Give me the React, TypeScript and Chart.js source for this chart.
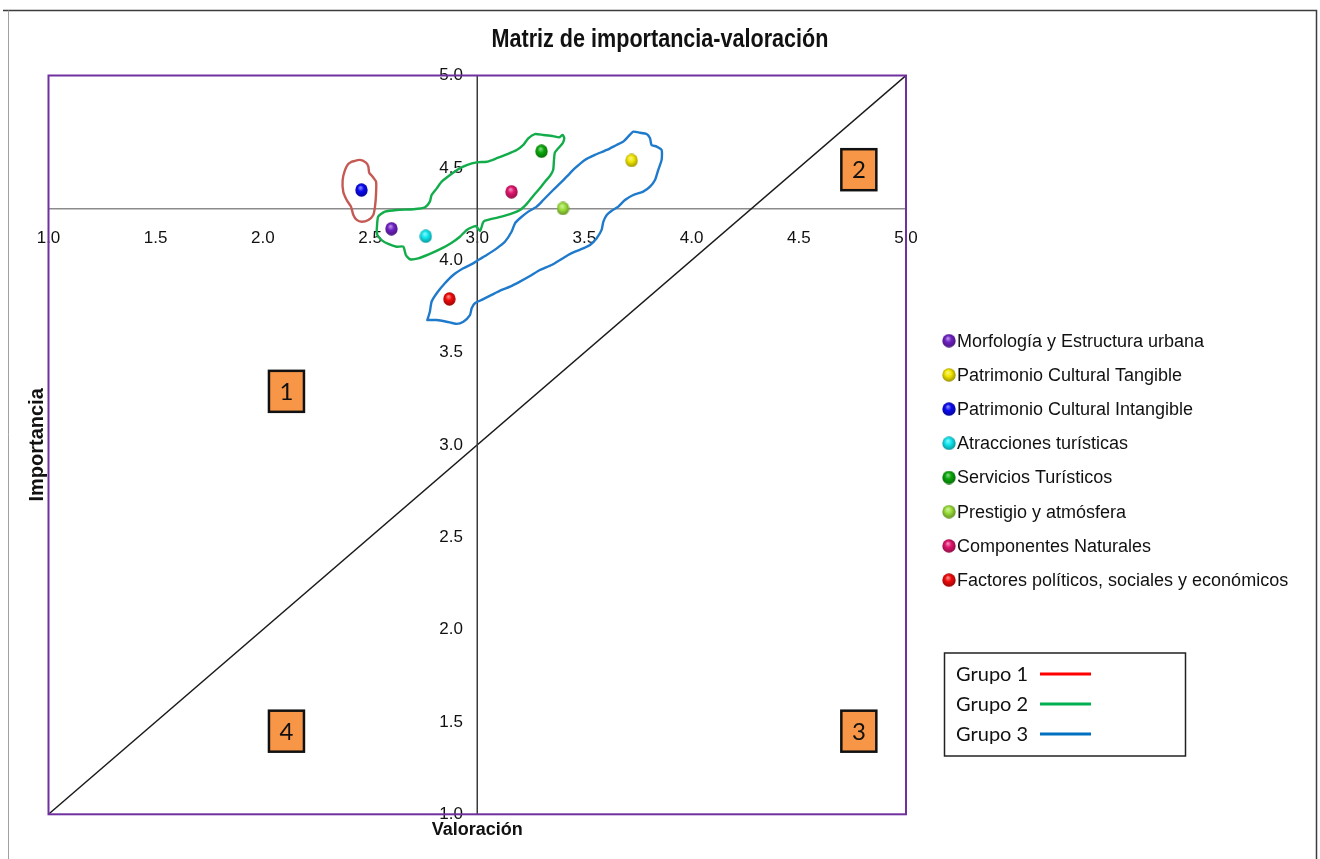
import { useEffect, useRef } from 'react';
import { Chart, registerables } from 'chart.js';

Chart.register(...registerables);

// Categories evaluated in the matrix (one point each)
const categories = [
  'Morfología y Estructura urbana',
  'Patrimonio Cultural Tangible',
  'Patrimonio Cultural Intangible',
  'Atracciones turísticas',
  'Servicios Turísticos',
  'Prestigio y atmósfera',
  'Componentes Naturales',
  'Factores políticos, sociales y económicos',
];
const valoracion = [2.6, 3.72, 2.46, 2.76, 3.3, 3.4, 3.16, 2.87];
const importancia = [4.17, 4.54, 4.38, 4.13, 4.59, 4.28, 4.37, 3.79];
const pointColors = ['#7022c4', '#f2e600', '#0a0af0', '#10e8f0', '#0aa80a', '#9be03a', '#e0156e', '#f00a0a'];

// Axis range and the point where the quadrant dividers cross
const axisMin = 1;
const axisMax = 5;
const tickStep = 0.5;
const crossValoracion = 3.0;
const crossImportancia = 4.28;

// Numbered quadrant badges (valoración, importancia)
const quadrantNames = ['1', '2', '3', '4'];
const quadrantValoracion = [2.11, 4.78, 4.78, 2.11];
const quadrantImportancia = [3.29, 4.49, 1.45, 1.45];

// Hand-drawn group outlines, as (valoración, importancia) pairs
const groupNames = ['Grupo 1', 'Grupo 2', 'Grupo 3'];
const groupLegendColors = ['#ff0000', '#00b050', '#0070c0'];
const groupOutlineColors = ['#c55a55', '#12ad4a', '#1f7acb'];

const grupo1Outline: [number, number][] = [
  [2.414, 4.533], [2.453, 4.543], [2.481, 4.528], [2.492, 4.506], [2.496, 4.474], [2.512, 4.452],
  [2.528, 4.425], [2.528, 4.362], [2.523, 4.29], [2.515, 4.245], [2.492, 4.218], [2.461, 4.208],
  [2.438, 4.218], [2.422, 4.245], [2.411, 4.29], [2.391, 4.326], [2.375, 4.371], [2.372, 4.434],
  [2.383, 4.488], [2.398, 4.521], [2.414, 4.533],
];

const grupo2Outline: [number, number][] = [
  [2.531, 4.164], [2.538, 4.236], [2.57, 4.263], [2.624, 4.272], [2.702, 4.276], [2.756, 4.286],
  [2.779, 4.317], [2.787, 4.353], [2.811, 4.389], [2.834, 4.425], [2.873, 4.461], [2.911, 4.492],
  [2.951, 4.515], [2.997, 4.53], [3.044, 4.533], [3.091, 4.552], [3.137, 4.573], [3.184, 4.597],
  [3.215, 4.624], [3.238, 4.66], [3.269, 4.683], [3.308, 4.678], [3.354, 4.672], [3.382, 4.665],
  [3.398, 4.678], [3.406, 4.66], [3.398, 4.633], [3.378, 4.606], [3.362, 4.582], [3.358, 4.543],
  [3.354, 4.488], [3.339, 4.456], [3.316, 4.425], [3.292, 4.389], [3.261, 4.348], [3.23, 4.304],
  [3.199, 4.272], [3.153, 4.25], [3.098, 4.232], [3.036, 4.214], [3.027, 4.204], [3.013, 4.158],
  [2.994, 4.185], [2.951, 4.164], [2.919, 4.127], [2.881, 4.095], [2.834, 4.064], [2.779, 4.034],
  [2.725, 4.01], [2.686, 4.005], [2.667, 4.028], [2.655, 4.073], [2.624, 4.073], [2.585, 4.088],
  [2.554, 4.109], [2.534, 4.136], [2.531, 4.164],
];

const grupo3Outline: [number, number][] = [
  [2.767, 3.676], [2.779, 3.721], [2.787, 3.775], [2.811, 3.821], [2.849, 3.875], [2.888, 3.92],
  [2.935, 3.956], [2.981, 3.983], [3.005, 4.001], [3.044, 4.028], [3.091, 4.064], [3.129, 4.1],
  [3.16, 4.154], [3.176, 4.2], [3.199, 4.227], [3.238, 4.263], [3.277, 4.29], [3.308, 4.326],
  [3.354, 4.38], [3.386, 4.416], [3.417, 4.452], [3.456, 4.498], [3.502, 4.543], [3.549, 4.57],
  [3.604, 4.597], [3.65, 4.624], [3.681, 4.642], [3.704, 4.669], [3.728, 4.696], [3.759, 4.69],
  [3.79, 4.683], [3.806, 4.66], [3.813, 4.624], [3.837, 4.615], [3.86, 4.597], [3.86, 4.543],
  [3.844, 4.488], [3.829, 4.434], [3.806, 4.398], [3.774, 4.371], [3.728, 4.353], [3.689, 4.326],
  [3.658, 4.29], [3.627, 4.268], [3.604, 4.245], [3.588, 4.208], [3.58, 4.164], [3.557, 4.119],
  [3.526, 4.082], [3.494, 4.064], [3.456, 4.046], [3.424, 4.028], [3.386, 4.001], [3.347, 3.974],
  [3.292, 3.947], [3.246, 3.914], [3.199, 3.884], [3.153, 3.857], [3.114, 3.839], [3.067, 3.812],
  [3.021, 3.785], [2.989, 3.767], [2.974, 3.74], [2.966, 3.703], [2.935, 3.667], [2.904, 3.655],
  [2.857, 3.667], [2.811, 3.676], [2.767, 3.676],
];

const groupOutlines = [grupo1Outline, grupo2Outline, grupo3Outline];

const SANS = '"Liberation Sans", Arial, sans-serif';
const CALIBRI_LIKE = 'Lato, "Open Sans", sans-serif';

function mix(hex: string, target: string, t: number): string {
  const p = (h: string) => [1, 3, 5].map((i) => parseInt(h.slice(i, i + 2), 16));
  const a = p(hex);
  const b = p(target);
  const c = a.map((v, i) => Math.round(v + (b[i] - v) * t));
  return `rgb(${c[0]},${c[1]},${c[2]})`;
}

// Small shaded ball used as point marker
function makeSphere(color: string, w: number, h: number): HTMLCanvasElement {
  const c = document.createElement('canvas');
  c.width = w;
  c.height = h;
  const ctx = c.getContext('2d')!;
  const g = ctx.createRadialGradient(w * 0.42, h * 0.32, 0.5, w * 0.5, h * 0.5, Math.max(w, h) * 0.58);
  g.addColorStop(0, mix(color, '#ffffff', 0.5));
  g.addColorStop(0.35, color);
  g.addColorStop(1, mix(color, '#000000', 0.45));
  ctx.fillStyle = g;
  ctx.beginPath();
  ctx.ellipse(w / 2, h / 2, w / 2 - 0.3, h / 2 - 0.3, 0, 0, Math.PI * 2);
  ctx.fill();
  return c;
}

export default function App() {
  const ref = useRef<HTMLCanvasElement>(null);

  useEffect(() => {
    const canvas = ref.current;
    if (!canvas) return;

    const pointImages = pointColors.map((c) => makeSphere(c, 13, 14));
    const legendImages = pointColors.map((c) => makeSphere(c, 14, 14));

    const pointDatasets = categories.map((label, i) => ({
      type: 'scatter' as const,
      label,
      data: [{ x: valoracion[i], y: importancia[i] }],
      pointStyle: pointImages[i],
      pointRadius: 7,
      showLine: false,
    }));

    const outlineDatasets = groupOutlines.map((pts, i) => ({
      type: 'scatter' as const,
      label: groupNames[i],
      data: pts.map(([x, y]) => ({ x, y })),
      showLine: true,
      borderColor: groupOutlineColors[i],
      borderWidth: 2.4,
      tension: 0.2,
      pointRadius: 0,
      borderJoinStyle: 'round' as const,
      borderCapStyle: 'round' as const,
      fill: false,
    }));

    const dividerDatasets = [
      {
        type: 'scatter' as const,
        label: 'vertical',
        data: [{ x: crossValoracion, y: axisMin }, { x: crossValoracion, y: axisMax }],
        showLine: true,
        borderColor: '#3a3a3a',
        borderWidth: 1.5,
        pointRadius: 0,
      },
      {
        type: 'scatter' as const,
        label: 'diagonal',
        data: [{ x: axisMin, y: axisMin }, { x: axisMax, y: axisMax }],
        showLine: true,
        borderColor: '#1a1a1a',
        borderWidth: 1.5,
        pointRadius: 0,
      },
    ];

    const decorations = {
      id: 'matrixDecorations',
      beforeDraw(chart: Chart) {
        const ctx = chart.ctx;
        ctx.save();
        ctx.fillStyle = '#ffffff';
        ctx.fillRect(0, 0, chart.width, chart.height);
        ctx.strokeStyle = '#3c3c3c';
        ctx.lineWidth = 1.5;
        ctx.beginPath();
        ctx.moveTo(3, 10.5);
        ctx.lineTo(1316.5, 10.5);
        ctx.lineTo(1316.5, chart.height);
        ctx.stroke();
        ctx.strokeStyle = '#a0a0a0';
        ctx.lineWidth = 1;
        ctx.beginPath();
        ctx.moveTo(8.5, 10.5);
        ctx.lineTo(8.5, chart.height);
        ctx.stroke();
        ctx.restore();
      },
      afterDatasetsDraw(chart: Chart) {
        const ctx = chart.ctx;
        const { left, top, right, bottom } = chart.chartArea;
        const xs = chart.scales.x;
        const ys = chart.scales.y;
        ctx.save();
        ctx.strokeStyle = '#7030a0';
        ctx.lineWidth = 2;
        ctx.strokeRect(left, top, right - left, bottom - top);

        // quadrant badges
        quadrantNames.forEach((name, i) => {
          const cx = xs.getPixelForValue(quadrantValoracion[i]);
          const cy = ys.getPixelForValue(quadrantImportancia[i]);
          const w = 35;
          const h = 41;
          ctx.fillStyle = '#f79646';
          ctx.fillRect(cx - w / 2, cy - h / 2, w, h);
          ctx.strokeStyle = '#111111';
          ctx.lineWidth = 2.5;
          ctx.strokeRect(cx - w / 2, cy - h / 2, w, h);
          ctx.fillStyle = '#111111';
          ctx.font = `24px ${CALIBRI_LIKE}`;
          ctx.textAlign = 'center';
          ctx.textBaseline = 'middle';
          ctx.fillText(name, cx, cy + 1);
        });
        ctx.restore();
      },
      afterDraw(chart: Chart) {
        const ctx = chart.ctx;
        const xs = chart.scales.x;
        const { top, bottom } = chart.chartArea;
        ctx.save();
        ctx.fillStyle = '#111111';

        // title (condensed bold)
        ctx.save();
        ctx.translate(660, 40);
        ctx.scale(0.83, 1);
        ctx.font = `bold 26px ${SANS}`;
        ctx.textAlign = 'center';
        ctx.textBaseline = 'middle';
        ctx.fillText('Matriz de importancia-valoración', 0, 0);
        ctx.restore();

        // axis titles
        ctx.font = `bold 18px ${SANS}`;
        ctx.textAlign = 'center';
        ctx.textBaseline = 'middle';
        ctx.fillText('Valoración', xs.getPixelForValue(crossValoracion), 830);
        ctx.save();
        ctx.translate(37, (top + bottom) / 2);
        ctx.rotate(-Math.PI / 2);
        ctx.font = `bold 20px ${SANS}`;
        ctx.fillText('Importancia', 0, 0);
        ctx.restore();

        // category legend
        ctx.font = `18px ${SANS}`;
        ctx.textAlign = 'left';
        ctx.textBaseline = 'middle';
        categories.forEach((label, i) => {
          const y = 340.7 + i * 34.2;
          const img = legendImages[i];
          ctx.drawImage(img, 949 - img.width / 2, y - img.height / 2);
          ctx.fillStyle = '#111111';
          ctx.fillText(label, 957, y + 1);
        });

        // group legend box
        ctx.strokeStyle = '#222222';
        ctx.lineWidth = 1.5;
        ctx.strokeRect(944.5, 653, 241, 103);
        ctx.font = `20px ${CALIBRI_LIKE}`;
        groupNames.forEach((name, i) => {
          const y = 674 + i * 30;
          ctx.fillStyle = '#111111';
          ctx.fillText(name, 956, y + 1);
          ctx.strokeStyle = groupLegendColors[i];
          ctx.lineWidth = 3;
          ctx.beginPath();
          ctx.moveTo(1040, y);
          ctx.lineTo(1091, y);
          ctx.stroke();
        });
        ctx.restore();
      },
    };

    const tickFont = { family: SANS, size: 17 };
    const fmt = (v: number | string) => Number(v).toFixed(1);

    const chart = new Chart(canvas, {
      type: 'scatter',
      data: { datasets: [...pointDatasets, ...outlineDatasets, ...dividerDatasets] as any },
      options: {
        responsive: false,
        animation: false,
        events: [],
        layout: { padding: { left: 48.5, top: 75.5, right: 414, bottom: 44.7 } },
        plugins: {
          legend: { display: false },
          tooltip: { enabled: false },
          title: { display: false },
        },
        scales: {
          x: {
            type: 'linear',
            min: axisMin,
            max: axisMax,
            position: { y: crossImportancia } as any,
            grid: { display: false, drawTicks: false },
            border: { display: true, color: '#8c8c8c', width: 1.5 },
            ticks: {
              stepSize: tickStep,
              padding: 20,
              color: '#111111',
              font: tickFont,
              maxRotation: 0,
              autoSkip: false,
              callback: fmt,
            },
          },
          y: {
            type: 'linear',
            min: axisMin,
            max: axisMax,
            position: { x: 2.933 } as any,
            grid: { display: false, drawTicks: false },
            border: { display: false },
            ticks: {
              stepSize: tickStep,
              color: '#111111',
              font: tickFont,
              autoSkip: false,
              callback: fmt,
            },
          },
        },
      },
      plugins: [decorations],
    });

    return () => chart.destroy();
  }, []);

  return (
    <div style={{ position: 'fixed', left: 0, top: 0, width: 1320, height: 859, background: '#ffffff' }}>
      <canvas ref={ref} width={1320} height={859} style={{ display: 'block' }} />
    </div>
  );
}
